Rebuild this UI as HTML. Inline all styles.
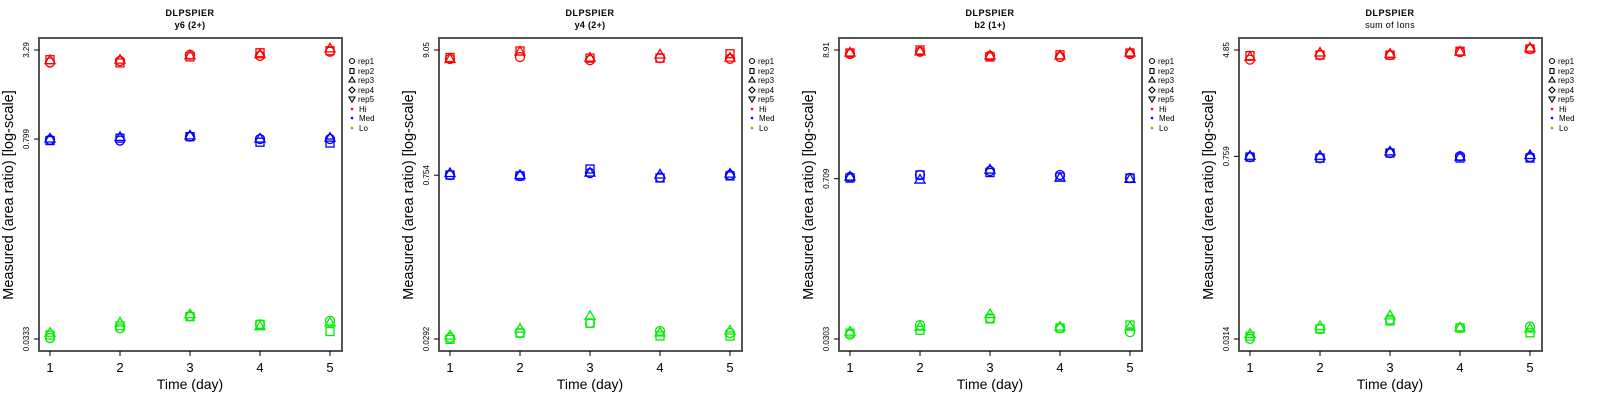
<!DOCTYPE html>
<html><head><meta charset="utf-8"><style>
html,body{margin:0;padding:0;background:#fff;}
svg{display:block;font-family:"Liberation Sans",Arial,sans-serif;}
</style></head><body>
<svg id="chart" width="1600" height="400" viewBox="0 0 1600 400"></svg>
<script>
const days = [1,2,3,4,5];
const titles = ["y6 (2+)","y4 (2+)","b2 (1+)","sum of Ions"];
const tickTop = [3.29, 9.05, 8.91, 4.85];
const tickMid = [0.799, 0.754, 0.709, 0.759];
const tickBot = [0.0333, 0.0292, 0.0303, 0.0314];
const tickTopLabels = ["3.29","9.05","8.91","4.85"];
const tickMidLabels = ["0.799","0.754","0.709","0.759"];
const tickBotLabels = ["0.0333","0.0292","0.0303","0.0314"];
const hiP1 = [[2.70,2.76,3.05,3.00,3.20],[2.82,2.68,2.95,3.15,3.25],[2.78,2.80,3.00,3.05,3.35]];
const medP1 = [[0.79,0.78,0.83,0.80,0.80],[0.78,0.81,0.83,0.76,0.75],[0.80,0.82,0.84,0.80,0.81]];
const loP1 = [[0.0338,0.0395,0.048,0.042,0.0445],[0.0355,0.041,0.0475,0.042,0.0375],[0.0365,0.043,0.049,0.0405,0.043]];
const hiP2 = [[7.57,7.87,7.40,7.70,7.60],[7.80,8.87,7.70,7.70,8.40],[7.50,8.70,7.70,8.20,7.70]];
const medP2 = [[0.757,0.743,0.787,0.72,0.757],[0.757,0.743,0.853,0.714,0.743],[0.78,0.75,0.787,0.757,0.77]];
const loP2 = [[0.0299,0.0329,0.040,0.0342,0.0329],[0.0290,0.0329,0.040,0.0310,0.0310],[0.0310,0.0355,0.0457,0.0329,0.0342]];
const hiP3 = [[8.24,8.60,7.93,7.77,8.24],[8.40,8.91,7.77,8.10,8.40],[8.40,8.60,7.93,7.93,8.40]];
const medP3 = [[0.733,0.763,0.825,0.763,0.718],[0.718,0.763,0.80,0.733,0.718],[0.733,0.690,0.84,0.718,0.700]];
const loP3 = [[0.0330,0.0399,0.0455,0.0376,0.0347],[0.0340,0.0360,0.0450,0.0376,0.0399],[0.0347,0.0383,0.0490,0.0383,0.0383]];
const hiP4 = [[4.10,4.44,4.44,4.68,4.94],[4.40,4.44,4.44,4.75,4.94],[4.28,4.60,4.50,4.68,5.00]];
const medP4 = [[0.750,0.737,0.805,0.76,0.750],[0.750,0.737,0.805,0.737,0.737],[0.760,0.760,0.820,0.750,0.770]];
const loP4 = [[0.0315,0.0374,0.0440,0.0381,0.0390],[0.0330,0.0374,0.0430,0.0381,0.0350],[0.0340,0.0390,0.0470,0.0381,0.0374]];
const hiAll = [hiP1,hiP2,hiP3,hiP4];
const medAll = [medP1,medP2,medP3,medP4];
const loAll = [loP1,loP2,loP3,loP4];
const repNames = ["rep1","rep2","rep3","rep4","rep5"];
const groupNames = ["Hi","Med","Lo"];
const groupColors = ["#ff0000","#0000ff","#00ee00"];

const NS = "http://www.w3.org/2000/svg";
const svg = document.getElementById('chart');
function mk(tag, attrs, parent, text){
  const e = document.createElementNS(NS, tag);
  for (const k in attrs) e.setAttribute(k, attrs[k]);
  if (text !== undefined) e.textContent = text;
  parent.appendChild(e); return e;
}
function marker(g, shape, x, y, color){
  const st = {fill:"none", stroke:color, "stroke-width":1.3};
  let e;
  if (shape===0) e = mk('circle', Object.assign({cx:x,cy:y,r:4.5},st), g);
  else if (shape===1) e = mk('rect', Object.assign({x:x-4,y:y-4,width:8,height:8},st), g);
  else if (shape===2) e = mk('polygon', Object.assign({points:`${x},${y-5.5} ${x-5},${y+3} ${x+5},${y+3}`},st), g);
  else if (shape===3) e = mk('polygon', Object.assign({points:`${x},${y-5.5} ${x+5.5},${y} ${x},${y+5.5} ${x-5.5},${y}`},st), g);
  else e = mk('polygon', Object.assign({points:`${x},${y+5.5} ${x-5},${y-3} ${x+5},${y-3}`},st), g);
  return e;
}
for (let p=0;p<4;p++){
  const ox = p*400;
  const g = mk('g',{transform:`translate(${ox},0)`}, svg);
  
  
  const L=39,R=342,T=38,B=351;
  const xs = d => 50 + (d-1)*70;
  const lT=Math.log(tickTop[p]), lB=Math.log(tickBot[p]);
  const ys = v => 50 + (lT-Math.log(v))/(lT-lB)*289;
  let t = mk('text',{x:190,y:16,'text-anchor':'middle','font-size':9,'font-weight':'bold','letter-spacing':'0.5'},g,'DLPSPIER');
   
  t = mk('text',{x:190,y:28,'text-anchor':'middle','font-size':9,'font-weight':p===3?'normal':'bold','letter-spacing':'0.3'},g,titles[p]);
   
  const box = mk('rect',{x:L,y:T,width:R-L,height:B-T,fill:'none',stroke:'#555','stroke-width':2},g);
   
  days.forEach(d=>{
    const x=xs(d);
    mk('line',{x1:x,y1:B,x2:x,y2:B+5,stroke:'#000'},g);
    const tl = mk('text',{x:x,y:372,'text-anchor':'middle','font-size':13},g,String(d));
     
  });
  [[tickTop[p],tickTopLabels[p]],[tickMid[p],tickMidLabels[p]],[tickBot[p],tickBotLabels[p]]].forEach(([v,lab])=>{
    const y=ys(v);
    mk('line',{x1:L,y1:y,x2:L-5,y2:y,stroke:'#000'},g);
    const tl = mk('text',{x:29,y:y,'text-anchor':'middle','font-size':8,transform:`rotate(-90 29 ${y})`},g,lab);
     
  });
  let ax = mk('text',{x:190,y:389,'text-anchor':'middle','font-size':14},g,'Time (day)');
   
  ax = mk('text',{x:13,y:195,'text-anchor':'middle','font-size':14.5,transform:'rotate(-90 13 195)'},g,'Measured (area ratio) [log-scale]');
   
  const groups=[hiAll[p],medAll[p],loAll[p]];
  groups.forEach((gd,gi)=>{
    gd.forEach((rep,ri)=>{
      rep.forEach((v,di)=>{
        const m = marker(g, ri, xs(days[di]), ys(v), groupColors[gi]);
        
        
      });
    });
  });
  const lg = mk('g',{},g);
   
  const ly=[61,71,80,90,99,109,118,128];
  repNames.forEach((n,i)=>{
    const y=ly[i];
    const st={fill:'none',stroke:'#000','stroke-width':1.1};
    if(i===0) mk('circle',Object.assign({cx:352,cy:y,r:2.5},st),lg);
    else if(i===1) mk('rect',Object.assign({x:350,y:y-2.5,width:4,height:5},st),lg);
    else if(i===2) mk('polygon',Object.assign({points:`352,${y-3} 349,${y+2} 355,${y+2}`},st),lg);
    else if(i===3) mk('polygon',Object.assign({points:`352,${y-3} 355,${y} 352,${y+3} 349,${y}`},st),lg);
    else mk('polygon',Object.assign({points:`352,${y+3} 349,${y-2} 355,${y-2}`},st),lg);
    const e = mk('text',{x:358,y:y+3,'font-size':8},lg,n);
     
  });
  groupNames.forEach((n,i)=>{
    const y=ly[5+i];
    mk('circle',{cx:352,cy:y,r:1.3,fill:groupColors[i]},lg);
    const e = mk('text',{x:359,y:y+3,'font-size':8},lg,n);
     
  });
}
</script>
</body></html>
